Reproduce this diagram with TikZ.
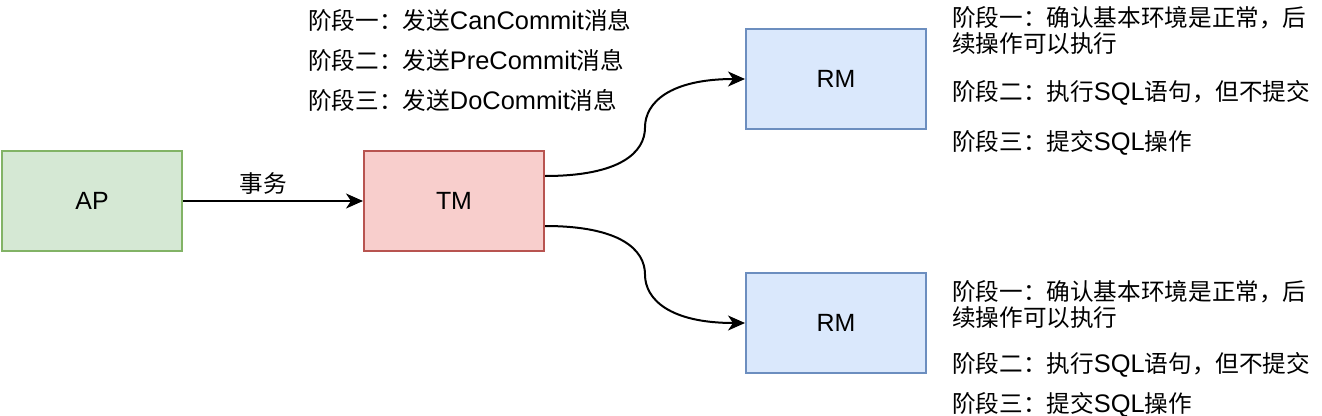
\documentclass[tikz,border=0pt]{standalone}
\usepackage{fontspec}
\setmainfont{Liberation Sans}
\newfontfamily\cjk[Scale=0.93]{Noto Sans CJK SC}
\usepackage{xcolor}
\definecolor{apfill}{HTML}{D5E8D4}
\definecolor{apline}{HTML}{82B366}
\definecolor{tmfill}{HTML}{F8CECC}
\definecolor{tmline}{HTML}{B85450}
\definecolor{rmfill}{HTML}{DAE8FC}
\definecolor{rmline}{HTML}{6C8EBF}
\usepackage{tikz}
\usetikzlibrary{positioning, arrows.meta, calc}
\newcommand{\zh}[1]{{\cjk #1}}

\begin{document}
\begin{tikzpicture}
    \tikzstyle{apnode} = [minimum height=100bp, minimum width=180bp, inner sep=0pt, line width=2bp, draw=apline, fill=apfill, font=\fontsize{25}{27}\selectfont]
    \tikzstyle{tmnode} = [minimum height=100bp, minimum width=180bp, inner sep=0pt, line width=2bp, draw=tmline, fill=tmfill, font=\fontsize{25}{27}\selectfont]
    \tikzstyle{rmnode} = [minimum height=100bp, minimum width=180bp, inner sep=0pt, line width=2bp, draw=rmline, fill=rmfill, font=\fontsize{25}{27}\selectfont]
    \tikzstyle{note} = [anchor=west, inner sep=0pt, align=left, font=\fontsize{25.5}{27}\selectfont]
    \tikzstyle{link} = [-{Stealth[length=17bp, width=15bp, inset=5bp]}, line width=2bp, black]

    \useasboundingbox (0,0) rectangle (1322bp,-416bp);

    \node [apnode, anchor=north west] (ap) at (1bp,-150bp) {AP};
    \node [tmnode, anchor=west] (tm) at ([xshift=180bp]ap.east) {TM};
    \node [rmnode, anchor=south west] (rm1) at ([xshift=200bp,yshift=20bp]tm.north east) {RM};
    \node [rmnode, anchor=north west] (rm2) at ([xshift=200bp,yshift=-20bp]tm.south east) {RM};

    \draw [link] (ap.east) -- node [above=6bp, xshift=-10bp, inner sep=0pt, font=\fontsize{25.5}{27}\selectfont] (tx) {\zh{事务}} (tm.west);

    \draw [link] ([yshift=25bp]tm.east) .. controls +(75bp,0) and +(0,-25bp) .. ($([yshift=25bp]tm.east)!0.5!(rm1.west)$) .. controls +(0,25bp) and +(-75bp,0) .. (rm1.west);
    \draw [link] ([yshift=-25bp]tm.east) .. controls +(75bp,0) and +(0,25bp) .. ($([yshift=-25bp]tm.east)!0.5!(rm2.west)$) .. controls +(0,-25bp) and +(-75bp,0) .. (rm2.west);

    \node [note] (send1) at ([xshift=-55bp,yshift=130bp]tm.north west) {\zh{阶段一：发送}CanCommit\zh{消息}};
    \node [note] (send2) at ([yshift=-40bp]send1.west) {\zh{阶段二：发送}PreCommit\zh{消息}};
    \node [note] (send3) at ([yshift=-40bp]send2.west) {\zh{阶段三：发送}DoCommit\zh{消息}};

    \node [note] (doa1) at ([xshift=25bp,yshift=48.5bp]rm1.east) {\zh{阶段一：确认基本环境是正常，后}\\\zh{续操作可以执行}};
    \node [note] (doa2) at ([yshift=-62bp]doa1.west) {\zh{阶段二：执行}SQL\zh{语句，但不提交}};
    \node [note] (doa3) at ([yshift=-50bp]doa2.west) {\zh{阶段三：提交}SQL\zh{操作}};

    \node [note] (dob1) at ([xshift=25bp,yshift=18.5bp]rm2.east) {\zh{阶段一：确认基本环境是正常，后}\\\zh{续操作可以执行}};
    \node [note] (dob2) at ([yshift=-60.5bp]dob1.west) {\zh{阶段二：执行}SQL\zh{语句，但不提交}};
    \node [note] (dob3) at ([yshift=-40bp]dob2.west) {\zh{阶段三：提交}SQL\zh{操作}};
\end{tikzpicture}
\end{document}
